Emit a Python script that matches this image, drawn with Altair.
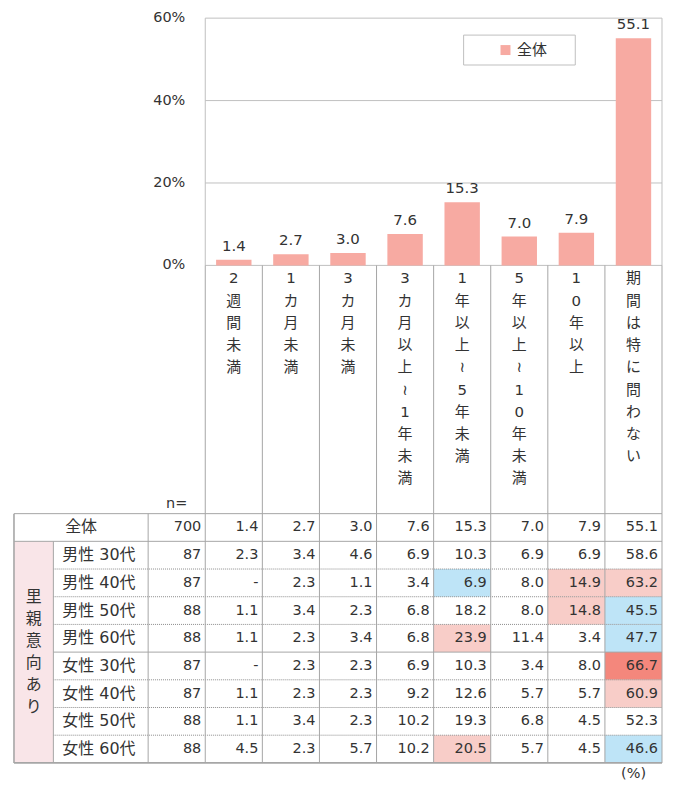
import altair as alt
import pandas as pd

# ---------------- data ----------------
categories = ["2週間未満", "1カ月未満", "3カ月未満", "3カ月以上～1年未満",
              "1年以上～5年未満", "5年以上～10年未満", "10年以上", "期間は特に問わない"]
overall_pct = [1.4, 2.7, 3.0, 7.6, 15.3, 7.0, 7.9, 55.1]
series_name = "全体"
y_ticks = [0, 20, 40, 60]

row_labels = ["全体", "男性 30代", "男性 40代", "男性 50代", "男性 60代",
              "女性 30代", "女性 40代", "女性 50代", "女性 60代"]
group_label = "里親意向あり"
n_values = [700, 87, 87, 88, 88, 87, 87, 88, 88]

vals_all = [1.4, 2.7, 3.0, 7.6, 15.3, 7.0, 7.9, 55.1]
vals_m30 = [2.3, 3.4, 4.6, 6.9, 10.3, 6.9, 6.9, 58.6]
vals_m40 = [None, 2.3, 1.1, 3.4, 6.9, 8.0, 14.9, 63.2]
vals_m50 = [1.1, 3.4, 2.3, 6.8, 18.2, 8.0, 14.8, 45.5]
vals_m60 = [1.1, 2.3, 3.4, 6.8, 23.9, 11.4, 3.4, 47.7]
vals_f30 = [None, 2.3, 2.3, 6.9, 10.3, 3.4, 8.0, 66.7]
vals_f40 = [1.1, 2.3, 2.3, 9.2, 12.6, 5.7, 5.7, 60.9]
vals_f50 = [1.1, 3.4, 2.3, 10.2, 19.3, 6.8, 4.5, 52.3]
vals_f60 = [4.5, 2.3, 5.7, 10.2, 20.5, 5.7, 4.5, 46.6]

# cell marks: 1 = higher, 2 = much higher, -1 = lower, 0 = none
mark_all = [0, 0, 0, 0, 0, 0, 0, 0]
mark_m30 = [0, 0, 0, 0, 0, 0, 0, 0]
mark_m40 = [0, 0, 0, 0, -1, 0, 1, 1]
mark_m50 = [0, 0, 0, 0, 0, 0, 1, -1]
mark_m60 = [0, 0, 0, 0, 1, 0, 0, -1]
mark_f30 = [0, 0, 0, 0, 0, 0, 0, 2]
mark_f40 = [0, 0, 0, 0, 0, 0, 0, 1]
mark_f50 = [0, 0, 0, 0, 0, 0, 0, 0]
mark_f60 = [0, 0, 0, 0, 1, 0, 0, -1]

table_vals = [vals_all, vals_m30, vals_m40, vals_m50, vals_m60,
              vals_f30, vals_f40, vals_f50, vals_f60]
table_marks = [mark_all, mark_m30, mark_m40, mark_m50, mark_m60,
               mark_f30, mark_f40, mark_f50, mark_f60]

# ---------------- style / layout ----------------
FONT = "DejaVu Sans, Noto Sans CJK JP"
TEXT = "#333333"
PINK = "#F7AAA2"
GRID = "#C0C0C0"
LINE = "#A6A6A6"
DOT = "#8C8C8C"
HL_COLORS = ["#BEE4F7", "#F8CDC8", "#F4877C"]
GROUP_FILL = "#F9E5E8"

N = len(categories)
X_MIN = -3.35          # left edge of table, in value-column units
COL_AB = -2.66         # group column | row label column
COL_BN = -1.0          # row label column | n column
W = 650
H_BAR = 248
H_HEAD = 249
H_TAB = 250
FS = 14.5
FS_LABEL = 16
FS_HEAD = 15
NR = len(row_labels)
ROW_PX = H_TAB / NR
ymax = max(y_ticks)
LEG_X, LEG_Y, LEG_W, LEG_H = 451, 17, 112, 30   # legend box, px inside the bar panel

xscale = alt.Scale(domain=[X_MIN, N], nice=False, zero=False)
yscale = alt.Scale(domain=[0, ymax], nice=False, zero=False)
tyscale = alt.Scale(domain=[0, NR], nice=False, zero=False, reverse=True)


def X(f):
    return alt.X(f, type="quantitative", scale=xscale, axis=None)


def Yb(f):
    return alt.Y(f, type="quantitative", scale=yscale, axis=None)


def Yt(f):
    return alt.Y(f, type="quantitative", scale=tyscale, axis=None)


# ---------------- chart 1: bars ----------------
bar_df = pd.DataFrame({"cat": categories, "value": overall_pct,
                       "i": list(range(N)), "series": series_name})
tick_df = pd.DataFrame({"t": y_ticks})

base1 = alt.Chart(bar_df).transform_calculate(
    x0="datum.i + 0.19", x1="datum.i + 0.81", xc="datum.i + 0.5", base="0",
    lbl="format(datum.value, '.1f')")

bars = base1.mark_bar().encode(
    x=X("x0"), x2="x1:Q",
    y=Yb("value"), y2="base:Q",
    color=alt.Color("series:N", scale=alt.Scale(domain=[series_name], range=[PINK]),
                    legend=alt.Legend(title=None, orient="none", legendX=LEG_X, legendY=LEG_Y,
                                      padding=7.5, symbolType="square", symbolSize=100,
                                      symbolOffset=27, labelFontSize=15, labelColor=TEXT,
                                      labelFont=FONT)),
)
bar_labels = base1.mark_text(baseline="bottom", dy=-6, fontSize=15).encode(
    x=X("xc"), y=Yb("value"), text="lbl:N")

# legend frame
leg_box = alt.Chart(pd.DataFrame({"s": [series_name]})).mark_rect(
    fill="white", stroke="#BFBFBF", strokeWidth=1).encode(
    x=alt.value(LEG_X), x2=alt.value(LEG_X + LEG_W),
    y=alt.value(LEG_Y), y2=alt.value(LEG_Y + LEG_H))

tick_base = alt.Chart(tick_df).transform_calculate(
    gx0="0", gx1=str(N), lbl="datum.t + '%'")
grid = tick_base.transform_filter(f"datum.t > 0 && datum.t < {ymax}").mark_rule(
    color=GRID, strokeWidth=1).encode(x=X("gx0"), x2="gx1:Q", y=Yb("t"))
frame = tick_base.transform_filter(f"datum.t == 0 || datum.t == {ymax}").mark_rule(
    color=GRID, strokeWidth=1).encode(x=X("gx0"), x2="gx1:Q", y=Yb("t"))
frame_side = alt.Chart(pd.DataFrame({"b": [0, N]})).transform_calculate(
    lo="0", hi=str(ymax)).mark_rule(color=GRID, strokeWidth=1).encode(
    x=X("b"), y=Yb("lo"), y2="hi:Q")
ylabels = tick_base.mark_text(align="right", baseline="middle", dx=-20, fontSize=FS).encode(
    x=X("gx0"), y=Yb("t"), text="lbl:N")

chart1 = alt.layer(grid, frame, frame_side, leg_box, bars, bar_labels, ylabels).properties(
    width=W, height=H_BAR)

# ---------------- chart 2: category header ----------------
head_df = pd.DataFrame({"i": list(range(N)),
                        "vlabel": ["\n".join(list(c.replace("～", "≀"))) for c in categories]})
bound_df = pd.DataFrame({"b": list(range(N + 1))})

head_rules = alt.Chart(bound_df).mark_rule(color=LINE, strokeWidth=1).encode(
    x=X("b"), y=alt.value(0), y2=alt.value(H_HEAD))
head_text = alt.Chart(head_df).transform_calculate(xc="datum.i + 0.5").mark_text(
    baseline="middle", lineBreak="\n", lineHeight=22.3, fontSize=FS_HEAD).encode(
    x=X("xc"), y=alt.value(13), text="vlabel:N")
n_text = alt.Chart(pd.DataFrame({"t": ["n="], "p": [0]})).mark_text(
    align="right", baseline="middle", dx=-18, fontSize=FS).encode(
    x=X("p"), y=alt.value(H_HEAD - 10), text="t:N")

chart2 = alt.layer(head_rules, head_text, n_text).properties(width=W, height=H_HEAD)

# ---------------- chart 3: table ----------------
cells = []
for r in range(NR):
    cells.append({"r": r, "c": -1, "txt": str(n_values[r]), "mk": 0})
    for c in range(N):
        v = table_vals[r][c]
        cells.append({"r": r, "c": c, "txt": "-" if v is None else f"{v:.1f}",
                      "mk": table_marks[r][c]})
cell_df = pd.DataFrame(cells)

cbase = alt.Chart(cell_df).transform_calculate(
    x0="datum.c", x1="datum.c + 1", y0="datum.r", y1="datum.r + 1", yc="datum.r + 0.5")

hl = cbase.transform_filter("datum.mk != 0").mark_rect().encode(
    x=X("x0"), x2="x1:Q", y=Yt("y0"), y2="y1:Q",
    color=alt.Color("mk:O", scale=alt.Scale(domain=[-1, 1, 2], range=HL_COLORS), legend=None))

group_fill = alt.Chart(pd.DataFrame({"g": [group_label]})).transform_calculate(
    gx0=str(X_MIN), gx1=str(COL_AB), gy0="1", gy1=str(NR)).mark_rect(color=GROUP_FILL).encode(
    x=X("gx0"), x2="gx1:Q", y=Yt("gy0"), y2="gy1:Q")

cell_text = cbase.mark_text(align="right", baseline="middle", dx=-4, fontSize=FS).encode(
    x=X("x1"), y=Yt("yc"), text="txt:N")

rl_df = pd.DataFrame({"r": list(range(NR)), "label": row_labels})
rl_total = alt.Chart(rl_df).transform_filter("datum.r == 0").transform_calculate(
    yc="datum.r + 0.5", lx=str((X_MIN + COL_BN) / 2)).mark_text(
    align="center", baseline="middle", fontSize=FS_LABEL).encode(
    x=X("lx"), y=Yt("yc"), text="label:N")
rl_rest = alt.Chart(rl_df).transform_filter("datum.r > 0").transform_calculate(
    yc="datum.r + 0.5", lx=str(COL_AB)).mark_text(
    align="left", baseline="middle", dx=9, fontSize=FS_LABEL).encode(
    x=X("lx"), y=Yt("yc"), text="label:N")

GRP_LH = 22
grp_lines = list(group_label)
grp_first = (1 + NR) / 2 - (len(grp_lines) - 1) / 2 * GRP_LH / ROW_PX
grp_text = alt.Chart(pd.DataFrame({"t": ["\n".join(grp_lines)]})).transform_calculate(
    gx=str((X_MIN + COL_AB) / 2), gy=str(grp_first)).mark_text(
    align="center", baseline="middle", lineBreak="\n", lineHeight=GRP_LH, fontSize=16).encode(
    x=X("gx"), y=Yt("gy"), text="t:N")

# table lines
solid, dotted = [], []
solid.append({"x0": COL_AB, "x1": COL_AB, "y0": 1, "y1": NR})
for xb in [COL_BN] + list(range(N + 1)):
    solid.append({"x0": xb, "x1": xb, "y0": 0, "y1": NR})
solid.append({"x0": X_MIN, "x1": N, "y0": 0, "y1": 0})
solid.append({"x0": X_MIN, "x1": N, "y0": 1, "y1": 1})
for r in range(2, NR):
    prev_g = row_labels[r - 1].split(" ")[0]
    cur_g = row_labels[r].split(" ")[0]
    seg = {"x0": COL_AB, "x1": N, "y0": r, "y1": r}
    (solid if prev_g != cur_g else dotted).append(seg)
outer = [{"x0": X_MIN, "x1": X_MIN, "y0": 0, "y1": NR},
         {"x0": X_MIN, "x1": N, "y0": NR, "y1": NR}]


def seg_layer(rows, **kw):
    return alt.Chart(pd.DataFrame(rows)).mark_rule(**kw).encode(
        x=X("x0"), x2="x1:Q", y=Yt("y0"), y2="y1:Q")


dot_l = seg_layer(dotted, color=DOT, strokeWidth=1, strokeDash=[1, 1])
solid_l = seg_layer(solid, color=LINE, strokeWidth=1)
outer_l = seg_layer(outer, color=LINE, strokeWidth=1.6)

pct_note = alt.Chart(pd.DataFrame({"t": ["(%)"]})).transform_calculate(
    px=str(N), py=str(NR)).mark_text(
    align="right", baseline="top", dx=-16, dy=4, fontSize=FS).encode(
    x=X("px"), y=Yt("py"), text="t:N")

chart3 = alt.layer(group_fill, hl, dot_l, solid_l, outer_l, cell_text, rl_total, rl_rest,
                   grp_text, pct_note).properties(width=W, height=H_TAB)

chart = alt.vconcat(chart1, chart2, chart3, spacing=0, bounds="flush").resolve_scale(
    color="independent"
).properties(
    padding={"left": 5, "top": 1, "right": 3, "bottom": 3}
).configure_view(stroke=None).configure_text(font=FONT, color=TEXT)

chart.save("out.html", embed_options={"renderer": "svg", "actions": False})
